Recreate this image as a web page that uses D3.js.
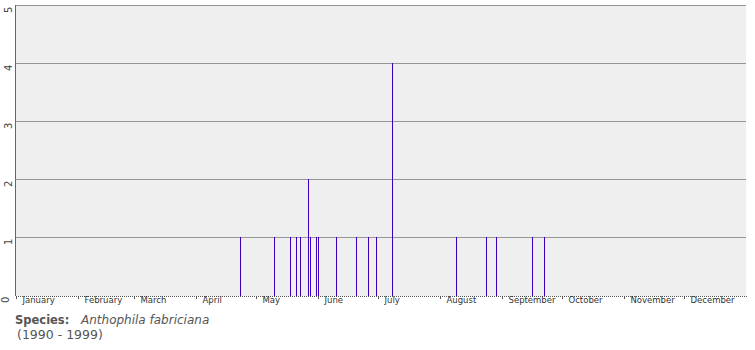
<!DOCTYPE html>
<html>
<head>
<meta charset="utf-8">
<script src="https://cdn.jsdelivr.net/npm/d3@7"></script>
<style>
  body { margin: 0; background: #fff; }
  svg { display: block; }
</style>
</head>
<body>
<svg id="phenology" width="755" height="350"></svg>
<script>
// observation dates (month-day) and number of records on that day
const obsDates = ["04-23", "05-10", "05-18", "05-21", "05-23", "05-27", "05-28", "05-31",
  "06-01", "06-10", "06-20", "06-26", "06-30", "07-08", "08-09", "08-24", "08-29",
  "09-16", "09-22"];
const obsCounts = [1, 1, 1, 1, 1, 2, 1, 1, 1, 1, 1, 1, 1, 4, 1, 1, 1, 1, 1];
const monthLabels = ["January", "February", "March", "April", "May", "June", "July",
  "August", "September", "October", "November", "December"];
const yTicks = [0, 1, 2, 3, 4, 5];
const speciesName = "Anthophila fabriciana";
const yearRange = "(1990 - 1999)";

const margin = { top: 5, left: 16, right: 9 },
  width = 755 - margin.left - margin.right,
  plotBottom = 296;

const parseDay = d3.timeParse("%Y-%m-%d");
const data = obsDates.map((d, i) => ({ date: parseDay("1999-" + d), count: obsCounts[i] }));

const svg = d3.select("#phenology");

// scales
const x = d3.scaleTime()
  .domain([new Date(1999, 0, 1), new Date(2000, 0, 1)])
  .range([margin.left, margin.left + width]);
const y = d3.scaleLinear()
  .domain([0, 5])
  .range([295, margin.top]);

// plot background
svg.append("rect")
  .attr("x", margin.left)
  .attr("y", margin.top)
  .attr("width", width)
  .attr("height", plotBottom - margin.top)
  .attr("fill", "#efefef");

// y axis with grid lines
const yAxis = svg.append("g")
  .attr("transform", `translate(${margin.left - 1},0)`)
  .call(d3.axisLeft(y).tickValues(yTicks).tickFormat(d3.format("d")).tickSize(0).tickPadding(0));
yAxis.select(".domain").remove();
yAxis.selectAll(".tick")
  .filter(d => d > 0)
  .append("line")
  .attr("x1", 1)
  .attr("x2", width + 1)
  .attr("stroke", "#959595");
yAxis.selectAll(".tick text")
  .attr("x", 0).attr("y", 0).attr("dy", 0)
  .attr("transform", d => d === 0 ? "translate(-6,1) rotate(-90)" : "translate(-3,1) rotate(-90)")
  .attr("text-anchor", "end")
  .attr("fill", "#444")
  .style("font-family", "DejaVu Sans")
  .style("font-size", "10px");
yAxis.append("line")
  .attr("x1", 0.5).attr("x2", 0.5)
  .attr("y1", margin.top).attr("y2", plotBottom)
  .attr("stroke", "#666");

// observation bars
svg.selectAll("line.obs")
  .data(data)
  .join("line")
  .attr("class", "obs")
  .attr("x1", d => Math.round(x(d.date)) + 0.5)
  .attr("x2", d => Math.round(x(d.date)) + 0.5)
  .attr("y1", y(0) + 1)
  .attr("y2", d => y(d.count))
  .attr("stroke", "#3a00bc")
  .attr("stroke-width", 1);

// day ticks (dotted look)
const dayAxis = svg.append("g")
  .attr("transform", `translate(0,${plotBottom})`)
  .call(d3.axisBottom(x).ticks(d3.timeDay.every(1)).tickSize(1).tickFormat(""));
dayAxis.select(".domain").remove();
dayAxis.selectAll(".tick line").attr("stroke", "#555");

// month ticks and labels
const monthAxis = svg.append("g")
  .attr("transform", `translate(0,${plotBottom})`)
  .call(d3.axisBottom(x)
    .ticks(d3.timeMonth.every(1))
    .tickSize(3)
    .tickFormat(d => monthLabels[d.getMonth()]));
monthAxis.select(".domain").remove();
monthAxis.selectAll(".tick")
  .filter(d => d >= x.domain()[1])
  .remove();
monthAxis.selectAll(".tick line").attr("stroke", "#555");
monthAxis.selectAll(".tick text")
  .attr("x", 6)
  .attr("y", 1)
  .attr("dy", "0.71em")
  .attr("text-anchor", "start")
  .attr("fill", "#333")
  .style("font-family", "DejaVu Sans")
  .style("font-size", "8.5px");

// caption
const caption = svg.append("text")
  .attr("x", 15)
  .attr("y", 324)
  .attr("fill", "#555")
  .style("font-family", "DejaVu Sans, Verdana")
  .style("font-size", "11.5px");
caption.append("tspan")
  .style("font-weight", "bold")
  .text("Species:");
caption.append("tspan")
  .attr("x", 81)
  .style("font-style", "italic")
  .style("font-size", "12px")
  .text(speciesName);
svg.append("text")
  .attr("x", 17)
  .attr("y", 339)
  .attr("fill", "#555")
  .style("font-family", "DejaVu Sans, Verdana")
  .style("font-size", "12.5px")
  .text(yearRange);
</script>
</body>
</html>
